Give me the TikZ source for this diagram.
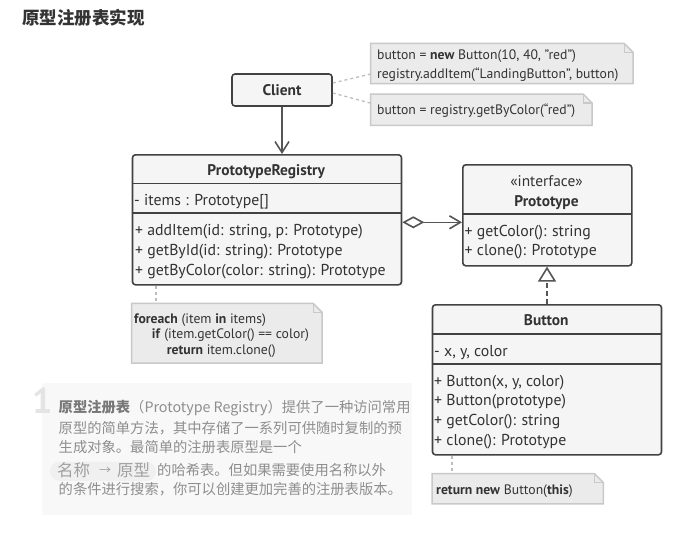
\documentclass[tikz,border=0pt]{standalone}
\usepackage{fontspec}
\setmainfont{PT Sans}
\newfontfamily\cjk{Noto Sans CJK SC}
\usetikzlibrary{arrows.meta,shapes.misc}
\definecolor{boxfill}{HTML}{F5F5F5}
\definecolor{boxline}{HTML}{424242}
\definecolor{notefill}{HTML}{EBEBEB}
\definecolor{noteline}{HTML}{C9C9C9}
\definecolor{txtc}{HTML}{333333}
\definecolor{linec}{HTML}{555555}
\definecolor{dashc}{HTML}{BDBDBD}
\definecolor{bgbox}{HTML}{F8F8F8}
\definecolor{bodyc}{HTML}{8E8E8E}
\definecolor{boldc}{HTML}{787878}
\definecolor{onec}{HTML}{E4E4E4}
\definecolor{pillc}{HTML}{F0F0F0}
\definecolor{pilltxt}{HTML}{A0A0A0}
\tikzset{
 cls/.style={draw=boxline, fill=boxfill, line width=1.6pt, rounded corners=3pt, inner sep=0pt, anchor=north west},
 sepline/.style={draw=boxline, line width=1.6pt},
 ctext/.style={anchor=base west, inner sep=0pt, text=txtc, font=\fontsize{15.8}{17}\selectfont, yshift=-5.5pt},
 ctitle/.style={anchor=base, inner sep=0pt, text=txtc, font=\fontsize{15.4}{17}\selectfont\bfseries, yshift=-5.4pt},
 cplain/.style={anchor=base, inner sep=0pt, text=txtc, font=\fontsize{15.4}{17}\selectfont, yshift=-5.4pt},
 notebox/.style={anchor=north west, inner sep=0pt},
 ntext/.style={anchor=base west, inner sep=0pt, text=txtc, font=\fontsize{13.7}{15}\selectfont, yshift=-4.8pt},
 dashlink/.style={draw=dashc, line width=1.3pt, dash pattern=on 3pt off 3pt},
 arrowline/.style={draw=linec, line width=1.6pt},
 body/.style={anchor=base west, inner sep=0pt, text=bodyc, font=\cjk\fontsize{14.3}{16}\selectfont, yshift=-5.3pt},
 pilltext/.style={anchor=base west, inner sep=0pt, text=pilltxt, font=\cjk\fontsize{16.5}{18}\selectfont, yshift=-6pt},
}
\newcommand\dogear[1]{%
  \filldraw[fill=notefill, draw=noteline, line width=1.5pt, line join=miter]
    (#1.south west) -- (#1.north west) -- ([xshift=-9pt]#1.north east)
    -- ([yshift=-9pt]#1.north east) -- (#1.south east) -- cycle;
  \draw[noteline, line width=1.2pt]
    ([xshift=-9pt]#1.north east) -- ([xshift=-9pt,yshift=-9pt]#1.north east)
    -- ([yshift=-9pt]#1.north east);
}
\begin{document}
\begin{tikzpicture}[x=1pt,y=-1pt]
\fill[white] (0,0) rectangle (690,551);
\useasboundingbox (0,0) rectangle (690,551);

% title
\node[anchor=base west, inner sep=0pt, text=txtc, font=\cjk\fontsize{17.5}{20}\selectfont\bfseries] (title) at (22,25) {原型注册表实现};

% Client
\node[cls, minimum width=100pt, minimum height=32pt, font=\fontsize{15.4}{17}\selectfont\bfseries, text=txtc, anchor=center] (client) at (282,90) {Client};

% notes near client
\node[notebox, minimum width=262pt, minimum height=40pt] (n1) at (370.7,43.3) {};
\dogear{n1}
\node[ntext] (n1a) at (377,55) {button = \textbf{new} Button(10, 40, "red")};
\node[ntext] (n1b) at (377,73.3) {registry.addItem(“LandingButton”, button)};
\node[notebox, minimum width=221pt, minimum height=31pt] (n2) at (370.7,94) {};
\dogear{n2}
\node[ntext] (n2a) at (377,110) {button = registry.getByColor(“red”)};
\draw[dashlink] ([yshift=7pt]client.east) -- ([yshift=-10.5pt]n1.west);
\draw[dashlink] ([yshift=-3pt]client.east) -- ([yshift=6.5pt]n2.west);

% PrototypeRegistry
\node[cls, minimum width=269pt, minimum height=130pt] (reg) at (131.7,154) {};
\draw[sepline] (131.7,183.3) -- (400.7,183.3);
\draw[sepline] (131.7,213) -- (400.7,213);
\node[ctitle] (regt) at (266.2,170.5) {PrototypeRegistry};
\node[ctext] (rega) at (134,199.5) {- items : Prototype[]};
\node[ctext] (regm1) at (135,230) {+ addItem(id: string, p: Prototype)};
\node[ctext] (regm2) at (135,249.5) {+ getById(id: string): Prototype};
\node[ctext] (regm3) at (135,269.5) {+ getByColor(color: string): Prototype};

% Prototype
\node[cls, minimum width=169pt, minimum height=101pt] (proto) at (462,164) {};
\draw[sepline] (462,214) -- (631,214);
\node[cplain] (protos) at (546.5,181.5) {«interface»};
\node[ctitle] (protot) at (546.5,201.5) {Prototype};
\node[ctext] (protom1) at (464.5,231) {+ getColor(): string};
\node[ctext] (protom2) at (464.5,250) {+ clone(): Prototype};

% Button
\node[cls, minimum width=229pt, minimum height=150pt] (button) at (431.7,304) {};
\draw[sepline] (431.7,333.7) -- (660.7,333.7);
\draw[sepline] (431.7,364) -- (660.7,364);
\node[ctitle] (buttont) at (546.2,320) {Button};
\node[ctext] (buttona) at (434,350.5) {- x, y, color};
\node[ctext] (buttonm1) at (434,381) {+ Button(x, y, color)};
\node[ctext] (buttonm2) at (434,400) {+ Button(prototype)};
\node[ctext] (buttonm3) at (434,419.5) {+ getColor(): string};
\node[ctext] (buttonm4) at (434,439.5) {+ clone(): Prototype};

% registry note
\node[notebox, minimum width=190pt, minimum height=59.5pt] (rn) at (131.7,303.3) {};
\dogear{rn}
\node[ntext] (rn1) at (134,318.3) {\textbf{foreach} (item \textbf{in} items)};
\node[ntext] (rn2) at (151.7,334) {\textbf{if} (item.getColor() == color)};
\node[ntext] (rn3) at (166.7,350) {\textbf{return} item.clone()};
\coordinate (rx) at (156,0);
\draw[dashlink] (rx |- reg.south) -- (rx |- rn.north);

% button note
\node[notebox, minimum width=171pt, minimum height=30pt] (bn) at (432,473.5) {};
\dogear{bn}
\node[ntext] (bn1) at (436,490) {\textbf{return new} Button(\textbf{this})};
\coordinate (bx) at (452,0);
\draw[dashlink] (bx |- button.south) -- (bx |- bn.north);

% connectors
\draw[arrowline, -{Straight Barb[length=11pt,width=14pt]}] (client.south) -- (client.south |- reg.north);
\draw[arrowline, {Diamond[length=22pt,width=12pt,fill=white]}-{Straight Barb[length=11pt,width=13pt]}]
  ([yshift=-2.5pt]reg.east) -- ([yshift=-2.5pt]reg.east -| proto.west);
\draw[arrowline, dash pattern=on 5pt off 3pt, -{Triangle[length=15pt,width=18pt,fill=white]}]
  (button.north) -- (button.north |- proto.south);

% text block
\fill[bgbox] (42,383) rectangle (412,515);
\node[anchor=base west, inner sep=0pt, text=onec, font=\fontsize{36}{36}\selectfont\bfseries] (one) at (32,413) {1};
\node[body] (l1) at (58.5,407.3) {{\color{boldc}\bfseries 原型注册表}（Prototype Registry）提供了一种访问常用};
\node[body] (l2) at (58.5,427.7) {原型的简单方法，其中存储了一系列可供随时复制的预};
\node[body] (l3) at (58.5,447.5) {生成对象。最简单的注册表原型是一个};
\node[rounded rectangle, fill=pillc, minimum width=106pt, minimum height=19pt, inner sep=0pt] (pillbg) at (103,471.3) {};
\node[pilltext] (pill1) at (57,470.5) {名称};
\node[pilltext, font=\cjk\fontsize{12}{14}\selectfont, yshift=1.8pt] (pill2) at (99,470.5) {→};
\node[pilltext] (pill3) at (117,470.5) {原型};
\node[body] (l4) at (157,470.5) {的哈希表。但如果需要使用名称以外};
\node[body] (l5) at (58.5,489) {的条件进行搜索，你可以创建更加完善的注册表版本。};
\end{tikzpicture}
\end{document}
